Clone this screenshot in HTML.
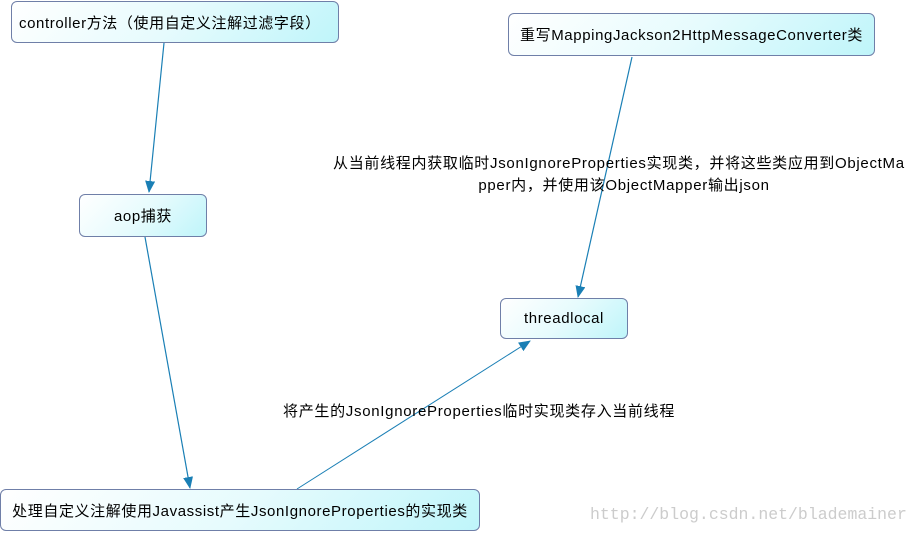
<!DOCTYPE html>
<html><head><meta charset="utf-8"><style>
body{margin:0;width:922px;height:535px;background:#fff;position:relative;overflow:hidden;font-family:"Liberation Sans","Noto Sans CJK SC",sans-serif;}
.b{position:absolute;box-sizing:border-box;border:1px solid #6f7fa8;border-radius:6px;background:linear-gradient(135deg,#fff 0%,#e6fbfd 50%,#bff5fa 100%);display:flex;align-items:center;justify-content:center;font-size:15px;letter-spacing:0.6px;color:#000;white-space:nowrap;}
.t{position:absolute;font-size:15px;letter-spacing:0.7px;color:#000;white-space:nowrap;}
</style></head><body>
<svg width="922" height="535" style="position:absolute;left:0;top:0">
<defs><marker id="a" markerWidth="12" markerHeight="14" refX="11" refY="5" orient="auto" markerUnits="userSpaceOnUse"><path d="M0,0 L12,5 L0,10 Z" fill="#1a7fb5"/></marker></defs>
<g stroke="#1a7fb5" stroke-width="1.2" fill="none">
<line x1="164" y1="43" x2="149" y2="192" marker-end="url(#a)"/>
<line x1="145" y1="237" x2="190" y2="488" marker-end="url(#a)"/>
<line x1="297" y1="489" x2="530" y2="341" marker-end="url(#a)" stroke-width="1"/>
<line x1="632" y1="57" x2="578" y2="297" marker-end="url(#a)"/>
</g></svg>
<div class="b" style="left:11px;top:1px;width:328px;height:42px;justify-content:flex-start;padding-left:7px">controller方法（使用自定义注解过滤字段）</div>
<div class="b" style="left:79px;top:194px;width:128px;height:43px">aop捕获</div>
<div class="b" style="left:0px;top:489px;width:480px;height:42px">处理自定义注解使用Javassist产生JsonIgnoreProperties的实现类</div>
<div class="b" style="left:508px;top:13px;width:367px;height:43px">重写MappingJackson2HttpMessageConverter类</div>
<div class="b" style="left:500px;top:298px;width:128px;height:41px">threadlocal</div>
<div class="t" style="left:333px;top:152px">从当前线程内获取临时JsonIgnoreProperties实现类，并将这些类应用到ObjectMa</div>
<div class="t" style="left:333px;top:174px;width:582px;text-align:center">pper内，并使用该ObjectMapper输出json</div>
<div class="t" style="left:283px;top:400px">将产生的JsonIgnoreProperties临时实现类存入当前线程</div>
<div class="t" style="left:590px;top:505px;font-family:'Liberation Mono',monospace;font-size:16.5px;letter-spacing:0;color:#ccc">http://blog.csdn.net/blademainer</div>
</body></html>
